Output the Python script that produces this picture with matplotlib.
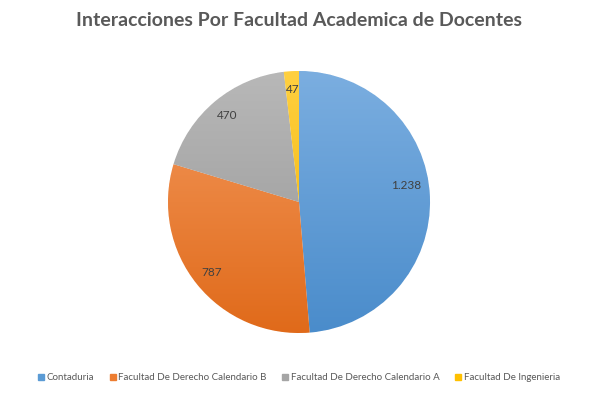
import matplotlib
matplotlib.use("Agg")
import matplotlib.pyplot as plt
import numpy as np
from matplotlib.colors import LinearSegmentedColormap
from matplotlib.lines import Line2D

categories = ["Contaduria", "Facultad De Derecho Calendario B",
              "Facultad De Derecho Calendario A", "Facultad De Ingenieria"]
values = [1238, 787, 470, 47]
value_labels = ["1.238", "787", "470", "47"]
title = "Interacciones Por Facultad Academica de Docentes"

base_colors = ["#5B9BD5", "#ED7D31", "#A5A5A5", "#FFC000"]
light_colors = ["#7BAEE0", "#F49A5E", "#B8B8B8", "#FFD040"]
dark_colors = ["#4A8CCB", "#E06A1A", "#959595", "#F0B000"]

fig = plt.figure(figsize=(5.98, 3.96), dpi=100)
fig.patch.set_facecolor("white")
W, H = 598, 396
cx, cy, r = 299, 202, 131
ax = fig.add_axes([(cx - r) / W, (H - cy - r) / H, 2 * r / W, 2 * r / H])
ax.axis("off")

wedges, texts = ax.pie(values, startangle=90, counterclock=False,
                       colors=base_colors, radius=1.0, labels=value_labels,
                       labeldistance=0.86,
                       wedgeprops=dict(edgecolor="white", linewidth=0.6),
                       textprops=dict(fontsize=8.5, color="#404040",
                                      family="Lato"))
ax.set_xlim(-1, 1)
ax.set_ylim(-1, 1)

grad = np.linspace(0, 1, 256).reshape(-1, 1)
for w, lc, dc in zip(wedges, light_colors, dark_colors):
    cmap = LinearSegmentedColormap.from_list("g", [lc, dc])
    im = ax.imshow(grad, cmap=cmap, extent=[-1, 1, -1, 1], origin="upper",
                   aspect="auto", zorder=w.get_zorder() + 0.1)
    im.set_clip_path(w)
for t in texts:
    t.set_zorder(10)
    t.set_ha("center")
    t.set_va("center")
# Excel-like placement tweak for the first label
x0, y0 = texts[0].get_position()
texts[0].set_position((x0 - 0.04, y0 + 0.09))

fig.text(0.5, 1 - 20 / H, title, ha="center", va="center", fontsize=14,
         fontweight="bold", color="#595959", family="Lato")

handles = [Line2D([0], [0], marker="s", linestyle="none", markersize=4.5,
                  markerfacecolor=c, markeredgecolor=c) for c in base_colors]
leg = fig.legend(handles, categories, loc="center", ncol=4,
                 bbox_to_anchor=(0.5, 1 - 378 / H), frameon=False,
                 prop=dict(family="Lato", size=7), handlelength=0.6,
                 handletextpad=0.3, columnspacing=1.6, labelcolor="#595959")

fig.savefig("out.png", dpi=100, facecolor="white")
